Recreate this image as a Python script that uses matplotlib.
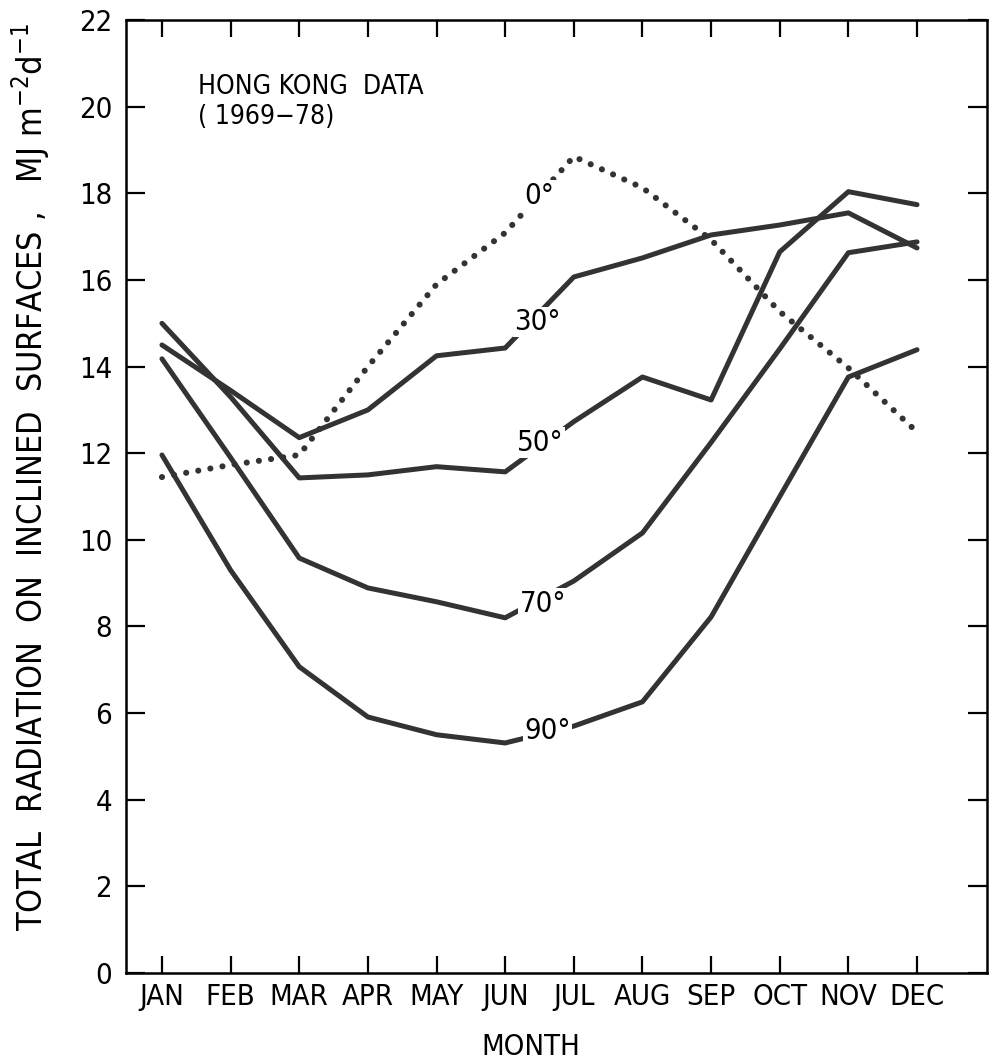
import matplotlib
matplotlib.use("Agg")
import matplotlib.pyplot as plt

plt.rcParams['font.family'] = ['DejaVu Sans']
plt.rcParams['font.stretch'] = 'condensed'
plt.rcParams['mathtext.default'] = 'regular'

# monthly mean daily radiation (MJ m-2 d-1), Hong Kong 1969-78
months = ["JAN", "FEB", "MAR", "APR", "MAY", "JUN",
          "JUL", "AUG", "SEP", "OCT", "NOV", "DEC"]
tilt_0 = [11.45, 11.73, 11.96, 14.0, 15.9, 17.09, 18.85, 18.13, 16.93, 15.27, 13.97, 12.49]
tilt_30 = [14.5, 13.45, 12.36, 13.0, 14.25, 14.43, 16.07, 16.51, 17.04, 17.27, 17.55, 16.74]
tilt_50 = [15.0, 13.3, 11.43, 11.5, 11.69, 11.57, 12.73, 13.76, 13.23, 16.65, 18.04, 17.74]
tilt_70 = [14.18, 11.9, 9.58, 8.89, 8.57, 8.2, 9.05, 10.16, 12.25, 14.41, 16.63, 16.88]
tilt_90 = [11.96, 9.3, 7.07, 5.91, 5.5, 5.31, 5.7, 6.26, 8.22, 11.0, 13.76, 14.39]

# curve labels: (text, x in months, y)
labels = [("0°", 6.50, 17.95), ("30°", 6.47, 15.03), ("50°", 6.51, 12.24),
          ("70°", 6.55, 8.52), ("90°", 6.62, 5.59)]

x = list(range(1, 13))
ink = '#333333'

fig = plt.figure(figsize=(9.92, 10.61), dpi=100)
ax = fig.add_axes([0.127, 0.083, 0.868, 0.898])

for series in [tilt_30, tilt_50, tilt_70, tilt_90]:
    ax.plot(x, series, color=ink, lw=3.6, solid_joinstyle='round', solid_capstyle='round')
ax.plot(x, tilt_0, color=ink, lw=4.4, linestyle=(0, (0.01, 2.0)), dash_capstyle='round')

for txt, lx, ly in labels:
    ax.text(lx, ly, txt, fontsize=21, color='black', ha='center', va='center',
            bbox=dict(facecolor='white', edgecolor='none', pad=1.0))

ax.text(1.52, 20.75, "HONG KONG  DATA\n( 1969\u221278)", fontsize=19,
        ha='left', va='top', linespacing=1.2)

ax.set_xlim(0.476, 13.02)
ax.set_ylim(0, 22)
ax.set_xticks(x)
ax.set_xticklabels(months)
ax.set_yticks(range(0, 23, 2))

ax.tick_params(axis='both', direction='in', top=True, right=True,
               width=1.6, labelsize=21, colors='black')
ax.tick_params(axis='y', length=13.5, pad=10)
ax.tick_params(axis='x', length=12, pad=7)
for s in ax.spines.values():
    s.set_linewidth(1.8)

ax.set_xlabel("MONTH", fontsize=21)
ax.xaxis.set_label_coords(0.47, -0.063)
ax.set_ylabel("TOTAL  RADIATION  ON  INCLINED  SURFACES ,   MJ m$^{-2}$d$^{-1}$", fontsize=24.5)
ax.yaxis.set_label_coords(-0.086, 0.52)

fig.savefig("out.png", dpi=100)
